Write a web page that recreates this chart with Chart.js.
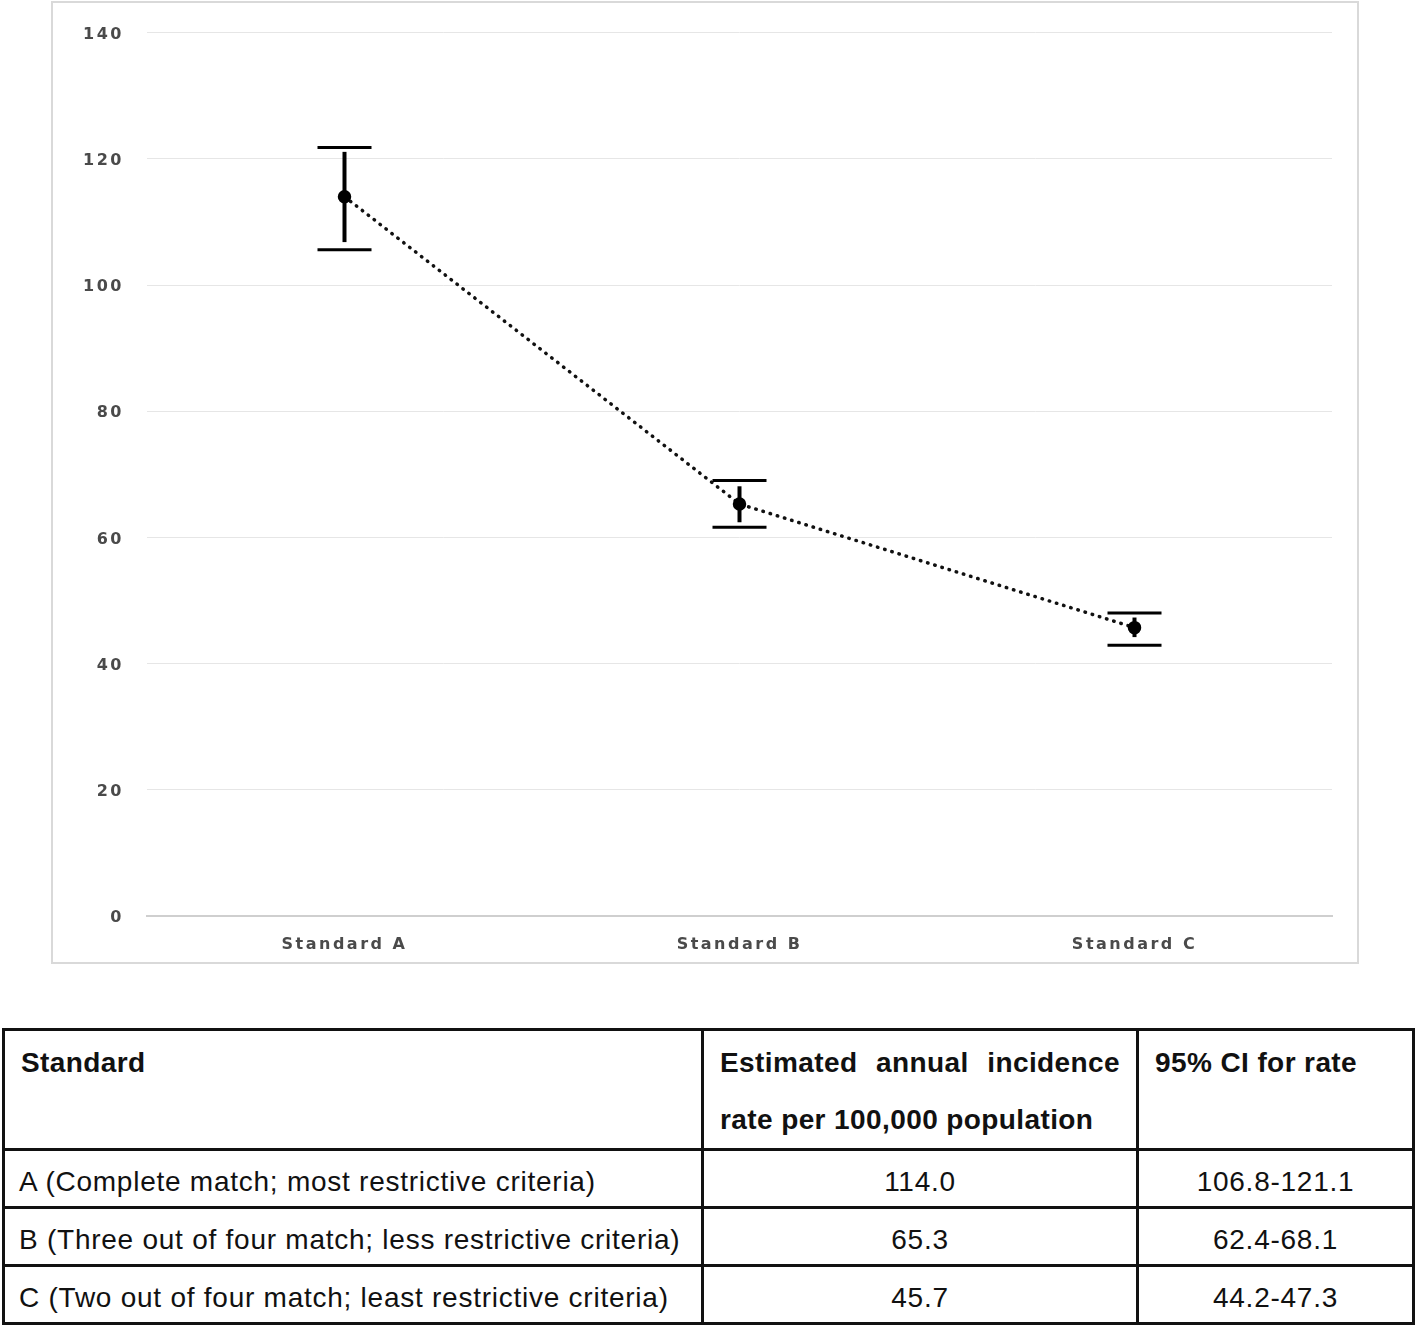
<!DOCTYPE html>
<html>
<head>
<meta charset="utf-8">
<script src="https://cdn.jsdelivr.net/npm/chart.js@4"></script>
<style>
  html, body { margin: 0; padding: 0; background: #fff; }
  body { width: 1418px; height: 1325px; position: relative; overflow: hidden; }
  #frame { position: absolute; left: 51px; top: 1px; width: 1304px; height: 959px; border: 2px solid #d9d9d9; box-sizing: content-box; }
  #c { position: absolute; left: 0; top: 0; }
  #tbl { position: absolute; left: 2px; top: 1028px; width: 1410px; border-collapse: collapse; table-layout: fixed;
         font-family: "Liberation Sans", sans-serif; font-size: 28px; color: #111; }
  #tbl td, #tbl th { border: 3px solid #111; padding: 0 16px; white-space: nowrap; }
  #tbl th { font-weight: bold; text-align: left; vertical-align: top; line-height: 57px; height: 110px; padding-top: 3px; letter-spacing: 0.4px; white-space: normal; }
  #tbl th.just { text-align: justify; text-align-last: left; }
  #tbl td { height: 49px; vertical-align: middle; padding-top: 6px; padding-bottom: 0; line-height: 40px; letter-spacing: 0.75px; }
  #tbl td.lab { padding-left: 14px; padding-right: 4px; }
  #tbl td.num { text-align: center; }
</style>
</head>
<body>
<div id="frame"></div>
<canvas id="c" width="1418" height="1000"></canvas>
<table id="tbl">
  <colgroup><col style="width:699px"><col style="width:435px"><col style="width:276px"></colgroup>
  <thead><tr id="head"></tr></thead>
  <tbody id="body"></tbody>
</table>
<script>
// ---- data ----
const categories = ['Standard A', 'Standard B', 'Standard C'];
const rates = [114.0, 65.3, 45.7];
const ciLow = [106.8, 62.4, 44.2];
const ciHigh = [121.1, 68.1, 47.3];
// cap positions as drawn in the figure (slightly outside the stems)
const capLow = [105.6, 61.6, 42.9];
const capHigh = [121.8, 69.0, 48.0];
const yTicks = [0, 20, 40, 60, 80, 100, 120, 140];
const headers = ['Standard', 'Estimated annual incidence rate per 100,000 population', '95% CI for rate'];
const rowLabels = [
  'A (Complete match; most restrictive criteria)',
  'B (Three out of four match; less restrictive criteria)',
  'C (Two out of four match; least restrictive criteria)'
];

// ---- table ----
const head = document.getElementById('head');
headers.forEach((h, i) => {
  const th = document.createElement('th');
  th.textContent = h;
  if (i === 1) th.className = 'just';
  head.appendChild(th);
});
const body = document.getElementById('body');
rowLabels.forEach((lab, i) => {
  const tr = document.createElement('tr');
  const a = document.createElement('td'); a.className = 'lab'; a.textContent = lab;
  const b = document.createElement('td'); b.className = 'num'; b.textContent = rates[i].toFixed(1);
  const c = document.createElement('td'); c.className = 'num'; c.textContent = ciLow[i].toFixed(1) + '-' + ciHigh[i].toFixed(1);
  tr.append(a, b, c);
  body.appendChild(tr);
});

// ---- chart ----
const PLOT_LEFT = 147, PLOT_BOTTOM = 916, CANVAS_H = 1000;

const spacingPlugin = {
  id: 'spacing',
  beforeDraw(chart) { chart.ctx.letterSpacing = '2.5px'; }
};

const errorBars = {
  id: 'errorBars',
  afterDatasetsDraw(chart) {
    const ctx = chart.ctx, xs = chart.scales.x, ys = chart.scales.y;
    ctx.save();
    ctx.strokeStyle = '#000';
    categories.forEach((c, i) => {
      const x = xs.getPixelForValue(i);
      ctx.lineWidth = 4;
      ctx.beginPath();
      ctx.moveTo(x, ys.getPixelForValue(ciHigh[i]));
      ctx.lineTo(x, ys.getPixelForValue(ciLow[i]));
      ctx.stroke();
      ctx.lineWidth = 3;
      [capLow[i], capHigh[i]].forEach(v => {
        const y = ys.getPixelForValue(v);
        ctx.beginPath();
        ctx.moveTo(x - 27, y);
        ctx.lineTo(x + 27, y);
        ctx.stroke();
      });
    });
    ctx.restore();
  }
};

new Chart(document.getElementById('c'), {
  type: 'line',
  data: {
    labels: categories,
    datasets: [{
      data: rates,
      borderColor: '#111',
      borderWidth: 3.5,
      borderDash: [0.5, 7],
      borderCapStyle: 'round',
      pointBackgroundColor: '#000',
      pointBorderColor: '#000',
      pointRadius: 5,
      pointStyle: 'circle',
      tension: 0
    }]
  },
  options: {
    responsive: false,
    animation: false,
    devicePixelRatio: 1,
    layout: { padding: { top: 32, right: 86, left: 0, bottom: 0 } },
    plugins: { legend: { display: false }, tooltip: { enabled: false } },
    scales: {
      x: {
        offset: true,
        grid: { display: false, drawTicks: false },
        border: { display: true, color: '#cfcfcf', width: 2 },
        ticks: { padding: 19, color: '#4a4a4a', font: { family: 'DejaVu Sans', weight: 'bold', size: 16 } },
        afterFit(s) { s.height = CANVAS_H - PLOT_BOTTOM; }
      },
      y: {
        min: 0, max: 140,
        afterBuildTicks(s) { s.ticks = yTicks.map(v => ({ value: v })); },
        grid: { color: '#e6e6e6', lineWidth: 1, drawTicks: false },
        border: { display: false },
        ticks: { padding: 23, labelOffset: 2, color: '#4a4a4a', font: { family: 'DejaVu Sans', weight: 'bold', size: 16 } },
        afterFit(s) { s.width = PLOT_LEFT; }
      }
    }
  },
  plugins: [spacingPlugin, errorBars]
});
</script>
</body>
</html>
